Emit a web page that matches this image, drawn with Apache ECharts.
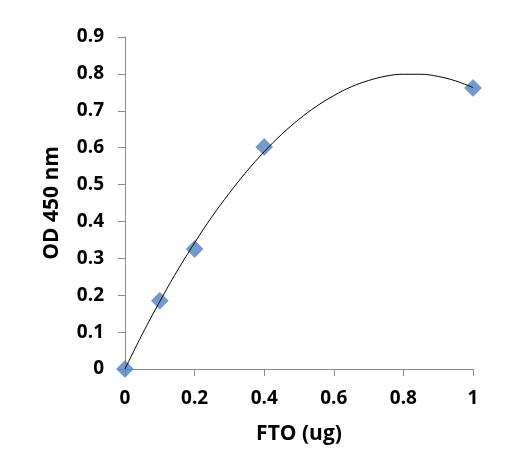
<!DOCTYPE html>
<html>
<head>
<meta charset="utf-8">
<script src="https://cdn.jsdelivr.net/npm/echarts@6/dist/echarts.min.js"></script>
<style>
  html, body { margin: 0; padding: 0; background: #fff; }
  #chart { width: 507px; height: 465px; }
</style>
</head>
<body>
<div id="chart"></div>
<script>
// measured points
var fto = [0, 0.1, 0.2, 0.4, 1];
var od = [0, 0.185, 0.325, 0.602, 0.762];

// trendline
var trendX = [0, 0.05, 0.1, 0.15, 0.2, 0.25, 0.3, 0.35, 0.4, 0.45, 0.5,
  0.55, 0.6, 0.65, 0.7, 0.75, 0.8, 0.85, 0.9, 0.95, 1];
var trendY = [0, 0.095, 0.183, 0.266, 0.342, 0.413, 0.477, 0.536, 0.589, 0.636, 0.677,
  0.712, 0.741, 0.765, 0.782, 0.794, 0.799, 0.799, 0.793, 0.781, 0.763];

var myChart = echarts.init(document.getElementById("chart"), null, {
  renderer: "canvas",
});

var points = fto.map(function (x, i) {
  return [x, od[i]];
});
var trend = trendX.map(function (x, i) {
  return [x, trendY[i]];
});

var tickFont = {
  fontFamily: "Open Sans",
  fontWeight: "bold",
  fontSize: 19,
  color: "#000",
};
var titleFont = {
  fontFamily: "Open Sans",
  fontWeight: "bold",
  fontSize: 21,
  color: "#000",
};

function fmt(v) {
  return String(+v.toFixed(1));
}

var option = {
  animation: false,
  grid: {
    left: 125,
    right: 34,
    top: 37,
    bottom: 96,
  },
  xAxis: {
    type: "value",
    min: 0,
    max: 1,
    interval: 0.2,
    name: "FTO (ug)",
    nameLocation: "middle",
    nameGap: 55,
    nameTextStyle: titleFont,
    axisLine: { lineStyle: { color: "#8c8c8c" } },
    axisTick: { show: true, length: 7, lineStyle: { color: "#8c8c8c" } },
    axisLabel: Object.assign({ margin: 20, formatter: fmt }, tickFont),
    splitLine: { show: false },
  },
  yAxis: {
    type: "value",
    min: 0,
    max: 0.9,
    interval: 0.1,
    name: "OD 450 nm",
    nameLocation: "middle",
    nameGap: 62,
    nameTextStyle: titleFont,
    axisLine: { show: true, lineStyle: { color: "#8c8c8c" } },
    axisTick: { show: true, length: 7, lineStyle: { color: "#8c8c8c" } },
    axisLabel: Object.assign({ margin: 21, formatter: fmt }, tickFont),
    splitLine: { show: false },
  },
  series: [
    {
      name: "trend",
      type: "line",
      data: trend,
      smooth: 0.4,
      showSymbol: false,
      lineStyle: { color: "#000", width: 1 },
      z: 2,
    },
    {
      name: "OD",
      type: "scatter",
      data: points,
      symbol: "diamond",
      symbolSize: [17, 17],
      itemStyle: { color: "#4f81bd", borderColor: "#3f6fa8", borderWidth: 0.5 },
      z: 1,
    },
  ],
};

myChart.setOption(option);
window.addEventListener("resize", myChart.resize);
</script>
</body>
</html>
